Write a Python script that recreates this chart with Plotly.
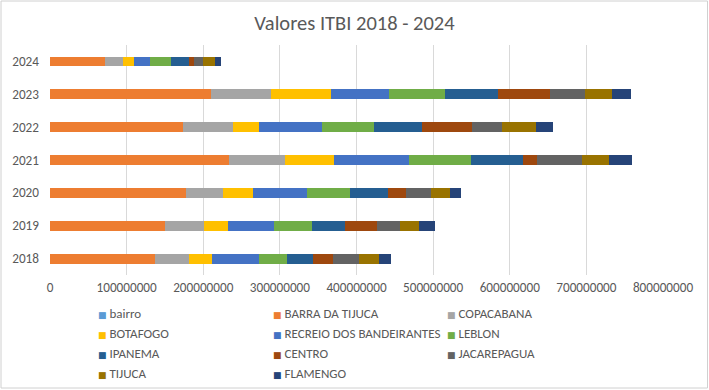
import plotly.graph_objects as go

years = ["2018", "2019", "2020", "2021", "2022", "2023", "2024"]

barra_da_tijuca = [137e6, 150e6, 178e6, 234e6, 174e6, 210e6, 72e6]
copacabana = [45e6, 51e6, 48e6, 73e6, 65e6, 79e6, 23e6]
botafogo = [30e6, 31e6, 39e6, 63e6, 34e6, 78e6, 14e6]
recreio = [61e6, 60e6, 70e6, 99e6, 82e6, 76e6, 22e6]
leblon = [36e6, 50e6, 56e6, 81e6, 68e6, 72e6, 27e6]
ipanema = [34e6, 43e6, 50e6, 67e6, 63e6, 70e6, 23e6]
centro = [26e6, 42e6, 24e6, 18e6, 65e6, 67e6, 7e6]
jacarepagua = [34e6, 30e6, 32e6, 59e6, 39e6, 46e6, 12e6]
tijuca = [26e6, 24e6, 25e6, 36e6, 44e6, 36e6, 15e6]
flamengo = [16e6, 21e6, 15e6, 29e6, 23e6, 24e6, 8e6]

x_ticks = [0, 100000000, 200000000, 300000000, 400000000, 500000000,
           600000000, 700000000, 800000000]

series = [
    ("bairro", None, "#5B9BD5"),
    ("BARRA DA TIJUCA", barra_da_tijuca, "#ED7D31"),
    ("COPACABANA", copacabana, "#A5A5A5"),
    ("BOTAFOGO", botafogo, "#FFC000"),
    ("RECREIO DOS BANDEIRANTES", recreio, "#4472C4"),
    ("LEBLON", leblon, "#70AD47"),
    ("IPANEMA", ipanema, "#255E91"),
    ("CENTRO", centro, "#9E480E"),
    ("JACAREPAGUA", jacarepagua, "#636363"),
    ("TIJUCA", tijuca, "#997300"),
    ("FLAMENGO", flamengo, "#264478"),
]

W, H = 709, 390
ML, MR, MT, MB = 50, 46, 45, 115
PW = W - ML - MR
PH = H - MT - MB

def px2x(px):
    return (px - ML) / PW

def py2y(py):
    return (H - MB - py) / PH

def lx(px):
    return px / W

def ly(py):
    return 1 - py / H

FONT = "Carlito, Calibri, Lato, sans-serif"
GREY = "#595959"

fig = go.Figure()
for name, vals, color in series:
    if vals is not None:
        fig.add_trace(go.Bar(
            name=name, y=years, x=vals, orientation="h",
            marker=dict(color=color, line=dict(width=0)),
            showlegend=False,
        ))

legend_names = ["legend", "legend2", "legend3"]
for i, (name, vals, color) in enumerate(series):
    label = ("<span style='color:%s;font-size:9px;font-family:DejaVu Sans'>\u25A0</span> %s"
             % (color, name))
    fig.add_trace(go.Scatter(
        x=[None], y=[None], mode="markers", name=label,
        marker=dict(symbol="square", size=1, color="rgba(0,0,0,0)"),
        legend=legend_names[i % 3],
    ))

leg_common = dict(
    orientation="v", xanchor="left", yanchor="top",
    xref="container", yref="container", traceorder="normal",
    font=dict(family=FONT, size=13, color=GREY),
    bgcolor="rgba(0,0,0,0)", tracegroupgap=0, itemwidth=30,
)

fig.update_layout(
    width=W, height=H,
    margin=dict(l=ML, r=MR, t=MT, b=MB, autoexpand=False),
    paper_bgcolor="white", plot_bgcolor="white",
    barmode="stack", bargap=0.7,
    title=dict(text="Valores ITBI 2018 - 2024", x=0.5, xanchor="center",
               y=1 - 23 / H, yanchor="middle",
               font=dict(family=FONT, size=20.5, color=GREY)),
    xaxis=dict(range=[0, 800000000], tickvals=x_ticks,
               ticktext=[str(v) for v in x_ticks],
               showgrid=True, gridcolor="#D9D9D9", gridwidth=1,
               zeroline=False, showline=False, ticks="",
               ticklabelstandoff=3,
               tickfont=dict(family=FONT, size=13.2, color=GREY)),
    yaxis=dict(type="category", categoryorder="array", categoryarray=years,
               showgrid=False, zeroline=False, showline=False, ticks="",
               ticklabelstandoff=10,
               tickfont=dict(family=FONT, size=13.2, color=GREY)),
    legend=dict(x=lx(58), y=ly(298), **leg_common),
    legend2=dict(x=lx(233), y=ly(298), **leg_common),
    legend3=dict(x=lx(407), y=ly(298), **leg_common),
    shapes=[dict(type="rect", xref="paper", yref="paper",
                 x0=px2x(1), x1=px2x(707.5), y0=py2y(388), y1=py2y(1),
                 line=dict(color="#D0D0D0", width=1))],
    showlegend=True,
)

fig.write_html("out.html", config={"displayModeBar": False},
               post_script="document.body.style.margin='0';")
